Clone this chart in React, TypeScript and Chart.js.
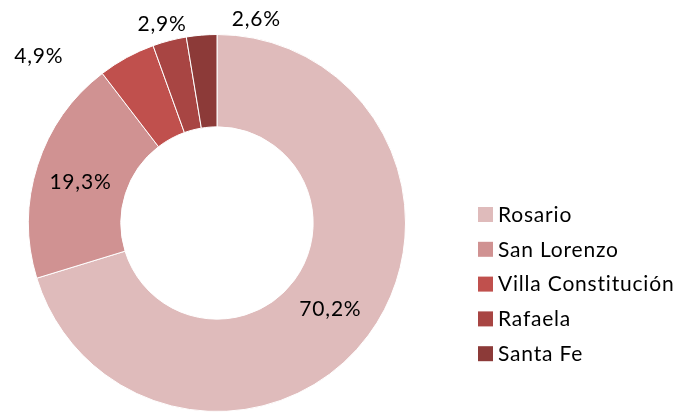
import React, { useEffect, useRef } from "react";
import { Chart, registerables } from "chart.js";

Chart.register(...registerables);

const categories = ["Rosario", "San Lorenzo", "Villa Constitución", "Rafaela", "Santa Fe"];
const values = [70.2, 19.3, 4.9, 2.9, 2.6];
const colors = ["#DFBBBB", "#D09292", "#C0504D", "#A84543", "#8C3A38"];
const valueLabels = ["70,2%", "19,3%", "4,9%", "2,9%", "2,6%"];
// label offsets from the arc's mid-ring point
const labelOffsets: [number, number][] = [
  [-1, 2],
  [-1, 3],
  [-110, -42],
  [-19, -61],
  [51, -62],
];

const FONT = "Lato, 'Open Sans', sans-serif";

const labelPlugin = {
  id: "sliceLabels",
  afterDatasetsDraw(chart: any) {
    const ctx = chart.ctx;
    const meta = chart.getDatasetMeta(0);
    ctx.save();
    ctx.font = `21px ${FONT}`;
    (ctx as any).letterSpacing = "0.8px";
    ctx.fillStyle = "#000";
    ctx.textAlign = "center";
    ctx.textBaseline = "middle";
    meta.data.forEach((arc: any, i: number) => {
      const p = arc.getProps(["x", "y", "startAngle", "endAngle", "innerRadius", "outerRadius"], true);
      const mid = (p.startAngle + p.endAngle) / 2;
      const r = (p.innerRadius + p.outerRadius) / 2;
      const x = p.x + Math.cos(mid) * r + labelOffsets[i][0];
      const y = p.y + Math.sin(mid) * r + labelOffsets[i][1];
      ctx.fillText(valueLabels[i], x, y);
    });
    ctx.restore();
  },
};

const legendPlugin = {
  id: "customLegend",
  afterDraw(chart: any) {
    const ctx = chart.ctx;
    ctx.save();
    ctx.font = `21px ${FONT}`;
    (ctx as any).letterSpacing = "0.8px";
    ctx.textBaseline = "middle";
    ctx.textAlign = "left";
    const x0 = 478;
    const y0 = 214;
    const step = 34.8;
    categories.forEach((c, i) => {
      const y = y0 + i * step;
      ctx.fillStyle = colors[i];
      ctx.fillRect(x0, y - 7, 15, 15);
      ctx.fillStyle = "#000";
      ctx.fillText(c, x0 + 20, y + 1);
    });
    ctx.restore();
  },
};

export default function App() {
  const ref = useRef<HTMLCanvasElement | null>(null);
  useEffect(() => {
    if (!ref.current) return;
    const chart = new Chart(ref.current, {
      type: "doughnut",
      data: {
        labels: categories,
        datasets: [
          {
            data: values,
            backgroundColor: colors,
            borderColor: "#ffffff",
            borderWidth: 1,
          },
        ],
      },
      options: {
        responsive: true,
        maintainAspectRatio: false,
        animation: false,
        cutout: "51%",
        layout: { padding: { left: 27, right: 271, top: 34, bottom: 0 } },
        plugins: {
          legend: { display: false },
          tooltip: { enabled: false },
        },
      },
      plugins: [labelPlugin, legendPlugin],
    });
    return () => chart.destroy();
  }, []);
  return (
    <div style={{ position: "fixed", left: 0, top: 0, width: 678, height: 412, background: "#fff" }}>
      <canvas ref={ref} />
    </div>
  );
}
